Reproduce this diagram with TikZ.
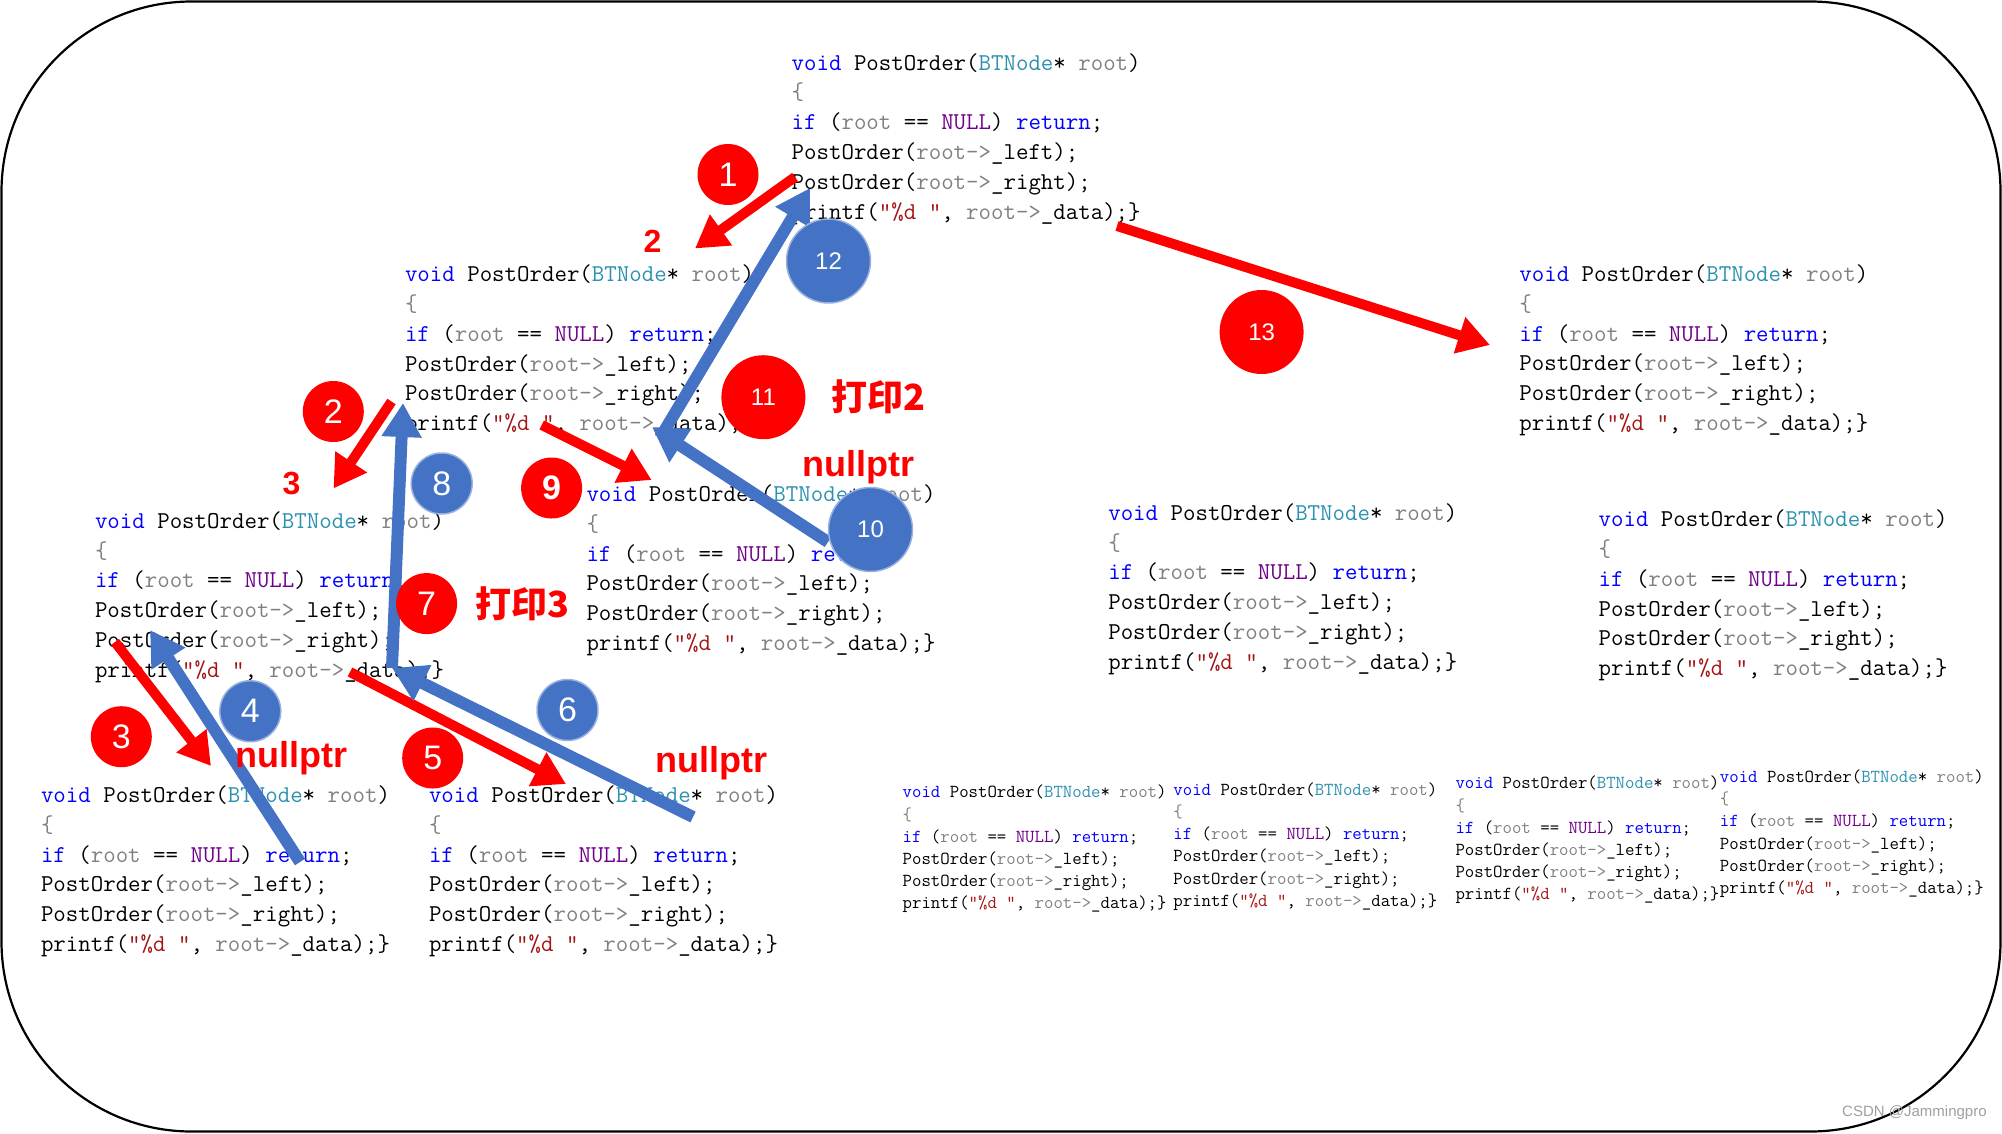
\documentclass[tikz,border=0pt]{standalone}
\usepackage{fontspec}
\setsansfont{Liberation Sans}
\newfontfamily\cjk{Noto Sans CJK SC}
\usetikzlibrary{arrows.meta}
\definecolor{myred}{RGB}{255,0,0}
\definecolor{myblue}{RGB}{68,114,196}
\definecolor{kw}{RGB}{0,0,255}
\definecolor{typ}{RGB}{43,145,175}
\definecolor{par}{RGB}{128,128,128}
\definecolor{mac}{RGB}{111,0,138}
\definecolor{str}{RGB}{163,21,21}
\newcommand\codefont{\ttfamily\addfontfeatures{FakeStretch=0.906}}
\tikzset{
  codeline/.style={anchor=base west, inner sep=0pt, outer sep=0pt},
  redarr/.style={draw=myred, line width=10pt, -{Triangle[length=32pt, width=36pt]}},
  bluearr/.style={draw=myblue, line width=12pt, -{Triangle[length=34pt, width=38pt]}},
  rc/.style={circle, fill=myred, text=white, inner sep=0pt, minimum size=61pt, font=\sffamily\fontsize{34}{34}\selectfont},
  bc/.style={rc, fill=myblue, draw=myblue!55!white, line width=1.5pt},
  bigc/.style={minimum size=84pt, font=\sffamily\fontsize{24}{24}\selectfont},
  redlbl/.style={text=myred, inner sep=0pt, font=\sffamily\bfseries\fontsize{32}{32}\selectfont},
  nulllbl/.style={text=myred, inner sep=0pt, font=\sffamily\bfseries\fontsize{36}{36}\selectfont},
  cjklbl/.style={text=myred, inner sep=0pt, font=\cjk\bfseries\fontsize{36}{36}\selectfont},
}
\newcommand\codeblk[5]{%
  \begin{scope}[nodes={codeline, font=\codefont\fontsize{#4}{#4}\selectfont}]
  \node (#1-1) at (#2,#3) {\textcolor{kw}{void} PostOrder(\textcolor{typ}{BTNode}* \textcolor{par}{root})};
  \node (#1-2) at (#2,#3+#5) {\textcolor{par}{\{}};
  \node (#1-3) at (#2,#3+2*#5) {\textcolor{kw}{if} (\textcolor{par}{root} == \textcolor{mac}{NULL}) \textcolor{kw}{return};};
  \node (#1-4) at (#2,#3+3*#5) {PostOrder(\textcolor{par}{root->}\_left);};
  \node (#1-5) at (#2,#3+4*#5) {PostOrder(\textcolor{par}{root->}\_right);};
  \node (#1-6) at (#2,#3+5*#5) {printf(\textcolor{str}{”\%d ”}, \textcolor{par}{root->}\_data);\}};
  \end{scope}}
\begin{document}
\begin{tikzpicture}[x=1pt, y=-1pt]
\useasboundingbox (0,0) rectangle (2002,1133);
\draw[line width=2.2pt, rounded corners=190pt] (1.5,1.5) rectangle (2000.5,1131.5);

% code blocks
\codeblk{A}{791.7}{70}{24.2}{29.8}
\codeblk{B}{405}{281.6}{24.2}{29.8}
\codeblk{C}{95}{528.3}{24.2}{29.8}
\codeblk{D}{41}{802.5}{24.2}{29.8}
\codeblk{E}{429}{802.5}{24.2}{29.8}
\codeblk{F}{586.5}{501.5}{24.2}{29.8}
\codeblk{G}{1519.4}{281.5}{24.2}{29.8}
\codeblk{H}{1108.3}{520.3}{24.2}{29.8}
\codeblk{I}{1598.6}{526.7}{24.2}{29.8}
\codeblk{J}{902.7}{797.8}{18.3}{22.2}
\codeblk{K}{1173.4}{795.3}{18.3}{22.2}
\codeblk{L}{1455.5}{788.9}{18.3}{22.2}
\codeblk{M}{1719.9}{782.5}{18.3}{22.2}

% arrow end points
\coordinate (a1s) at (795,177);   \coordinate (a1e) at (695,248.5);
\coordinate (a2s) at (391.5,401.5); \coordinate (a2e) at (333.5,488.5);
\coordinate (a3s) at (115,642);   \coordinate (a3e) at (211,766);
\coordinate (a4s) at (300,862);   \coordinate (a4e) at (150,630);
\coordinate (a5s) at (350,672);   \coordinate (a5e) at (566,784);
\coordinate (a6s) at (693,817);   \coordinate (a6e) at (392,668);
\coordinate (a8s) at (392,668);   \coordinate (a8e) at (403,403);
\coordinate (a9s) at (541.7,425); \coordinate (a9e) at (651.7,480);
\coordinate (a10s) at (828,542);  \coordinate (a10e) at (652,427);
\coordinate (a12s) at (660,438);  \coordinate (a12e) at (810,188);
\coordinate (a13s) at (1117,226); \coordinate (a13e) at (1490,345);

\draw[redarr] (a1s) -- (a1e);
\draw[redarr] (a2s) -- (a2e);
\draw[redarr] (a3s) -- (a3e);
\draw[bluearr] (a4s) -- (a4e);
\draw[redarr] (a5s) -- (a5e);
\draw[bluearr] (a6s) -- (a6e);
\draw[bluearr] (a8s) -- (a8e);
\draw[redarr] (a9s) -- (a9e);
\draw[bluearr] (a10s) -- (a10e);
\draw[bluearr] (a12s) -- (a12e);
\draw[redarr] (a13s) -- (a13e);

% step circles
\node[rc] (c1) at (728,174.5) {1};
\node[rc] (c2) at (333.3,411.5) {2};
\node[rc] (c3) at (121.3,736.7) {3};
\node[bc] (c4) at (250.3,711.2) {4};
\node[rc] (c5) at (432.7,758) {5};
\node[bc] (c6) at (567.5,710) {6};
\node[rc] (c7) at (426.6,603.6) {7};
\node[bc] (c8) at (441.7,483.5) {8};
\node[rc, font=\sffamily\bfseries\fontsize{34}{34}\selectfont] (c9) at (551.6,488) {9};
\node[bc, bigc] (c10) at (870.5,529.5) {10};
\node[rc, bigc] (c11) at (763.4,397.2) {11};
\node[bc, bigc] (c12) at (828.5,261) {12};
\node[rc, bigc] (c13) at (1261.6,332) {13};

% labels
\node[redlbl] (l2) at (652.5,241.5) {2};
\node[redlbl] (l3) at (291.5,483) {3};
\node[nulllbl] (n1) at (291,758.5) {nullptr};
\node[nulllbl] (n2) at (711,763.5) {nullptr};
\node[nulllbl] (n3) at (858,467) {nullptr};
\node[cjklbl] (p2) at (878,397) {打印2};
\node[cjklbl] (p3) at (522,604) {打印3};

\node[text=gray!75, inner sep=0pt, anchor=west, font=\sffamily\fontsize{15}{15}\selectfont] (wm) at (1842,1113) {CSDN @Jammingpro};
\end{tikzpicture}
\end{document}
